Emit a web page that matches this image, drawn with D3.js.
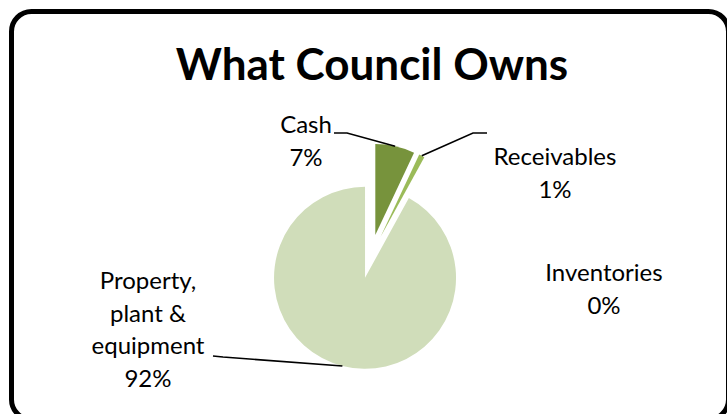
<!DOCTYPE html>
<html>
<head>
<meta charset="utf-8">
<script src="https://cdn.jsdelivr.net/npm/d3@7"></script>
<style>
  html, body { margin: 0; padding: 0; background: #fff; }
  svg { display: block; }
</style>
</head>
<body>
<svg id="chart" width="727" height="414"></svg>
<script>
// Asset categories and their share of total assets (%)
const categories = ["Cash", "Receivables", "Inventories", "Property, plant & equipment"];
const shares = [7, 1, 0, 92];
// Label text split over lines, as shown next to each slice
const labelLines = [["Cash"], ["Receivables"], ["Inventories"], ["Property,", "plant &", "equipment"]];
const sliceColors = ["#77933c", "#9bbb59", "#c3d69b", "#d0ddba"];

const title = "What Council Owns";

// Layout
const W = 727, H = 414;
const pieCenter = [370.5, 256.5];
const radius = 91;
const explode = 22;
const labelFont = "Lato, 'Open Sans', sans-serif";
const labelSize = 24;
const lineHeight = 32.5;
// label block: centre x, first baseline y; leader: bend point and end next to label
const labelLayout = [
  { x: 306, y: 133, bend: [347, 133], end: [334, 133] },
  { x: 555, y: 165, bend: [473, 133], end: [487, 133] },
  { x: 604, y: 281, bend: null, end: null },
  { x: 148, y: 289, bend: [223, 357], end: [213, 356] }
];

const svg = d3.select("#chart");

// Rounded chart frame
svg.append("rect")
  .attr("x", 11.5).attr("y", 11.5)
  .attr("width", 717).attr("height", 408)
  .attr("rx", 20).attr("ry", 20)
  .attr("fill", "#fff")
  .attr("stroke", "#000")
  .attr("stroke-width", 5);

// Title
svg.append("text")
  .attr("x", 372).attr("y", 80)
  .attr("text-anchor", "middle")
  .attr("font-family", labelFont)
  .attr("font-weight", "bold")
  .attr("font-size", 44)
  .attr("fill", "#000")
  .text(title);

const pie = d3.pie().sort(null).value(d => d).startAngle(0).endAngle(2 * Math.PI);
const arcs = pie(shares);
const arc = d3.arc().innerRadius(0).outerRadius(radius);
const rimArc = d3.arc().innerRadius(radius).outerRadius(radius);

function offsetOf(d) {
  const mid = (d.startAngle + d.endAngle) / 2;
  return [explode * Math.sin(mid), -explode * Math.cos(mid)];
}

const g = svg.append("g").attr("transform", `translate(${pieCenter[0]},${pieCenter[1]})`);

// Exploded slices
g.selectAll("path.slice")
  .data(arcs.filter(d => d.endAngle > d.startAngle))
  .enter().append("path")
  .attr("class", "slice")
  .attr("transform", d => { const o = offsetOf(d); return `translate(${o[0]},${o[1]})`; })
  .attr("d", arc)
  .attr("fill", d => sliceColors[d.index]);

// Leader lines from the slice rim to the label
const line = d3.line();
arcs.forEach((d, i) => {
  const lay = labelLayout[i];
  if (!lay.bend) return;
  const o = offsetOf(d);
  const c = rimArc.centroid(d);
  const start = [pieCenter[0] + c[0] + o[0], pieCenter[1] + c[1] + o[1]];
  svg.append("path")
    .attr("d", line([start, lay.bend, lay.end]))
    .attr("fill", "none")
    .attr("stroke", "#000")
    .attr("stroke-width", 1.6);
});

// Category labels with percentage
arcs.forEach((d, i) => {
  const lay = labelLayout[i];
  const lines = labelLines[i].concat([`${shares[i]}%`]);
  const t = svg.append("text")
    .attr("text-anchor", "middle")
    .attr("font-family", labelFont)
    .attr("font-size", labelSize)
    .attr("fill", "#000");
  lines.forEach((s, k) => {
    t.append("tspan").attr("x", lay.x).attr("y", lay.y + k * lineHeight).text(s);
  });
});
</script>
</body>
</html>
